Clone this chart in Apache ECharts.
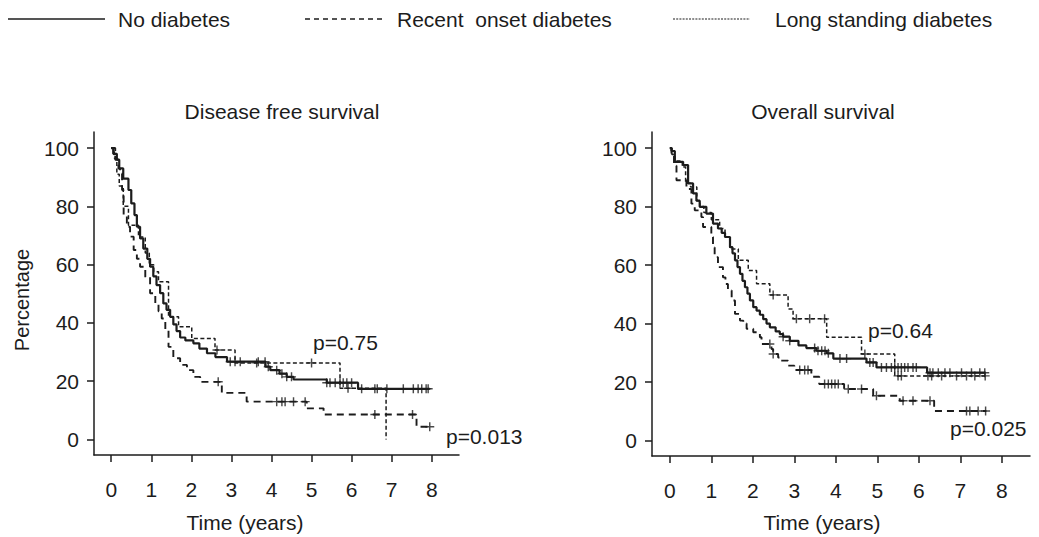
<!DOCTYPE html>
<html><head><meta charset="utf-8">
<script src="https://cdn.jsdelivr.net/npm/echarts@6/dist/echarts.min.js"></script>
<style>html,body{margin:0;padding:0;background:#fff}#c{width:1039px;height:537px}</style>
</head><body><div id="c"></div>
<script>
// ---- data (time in years, survival %) ----
var xTicks = [0,1,2,3,4,5,6,7,8];
var yTicks = [0,20,40,60,80,100];
var seriesNames = ['No diabetes','Recent  onset diabetes','Long standing diabetes'];
var panelTitles = ['Disease free survival','Overall survival'];
var pValues = [['p=0.75','p=0.013'],['p=0.64','p=0.025']];

// Disease free survival – step points [time, survival]
var dfsNone = [[0,100],[0.05,98],[0.14,96],[0.2,93],[0.3,89.5],[0.43,85.6],[0.5,81],[0.58,77],[0.64,73],[0.72,69],[0.8,65.5],[0.9,62],[0.97,59.3],[1.05,56],[1.13,53],[1.22,50.2],[1.3,46.7],[1.38,44.5],[1.47,42.1],[1.55,39.5],[1.63,37.2],[1.72,35],[1.85,34],[2.05,33],[2.2,31.2],[2.39,29.6],[2.6,28.3],[2.89,26.7],[3.85,25],[3.97,23.8],[4.2,22.6],[4.38,21.5],[4.55,20.6],[5.38,19.5],[6.16,17.4],[7.95,17.4]];
var dfsRecent = [[0,100],[0.1,96],[0.18,93],[0.22,91.3],[0.27,85.6],[0.31,77],[0.39,73],[0.47,69.6],[0.56,65],[0.64,62],[0.72,59.3],[0.85,55.8],[0.97,50.2],[1.1,46.7],[1.18,44],[1.26,41.5],[1.35,37.6],[1.43,31.8],[1.55,27.9],[1.72,25.6],[1.89,23.8],[2.05,21.5],[2.22,19.8],[2.76,16],[3.38,13],[4.88,10.7],[5.3,8.6],[7.62,4.4],[7.98,4.4]];
var dfsLong = [[0,100],[0.08,96.5],[0.14,91],[0.2,87],[0.3,80],[0.43,73.5],[0.68,69.5],[0.85,64],[0.95,60],[1.06,57.6],[1.18,54.1],[1.43,42.1],[1.68,38.7],[2.01,34.7],[2.59,30.7],[3.09,26.3],[5.71,17.6],[6.86,0]];
// censoring times
var dfsNoneC = [2.97,3.09,3.22,3.67,3.84,3.92,4.13,4.26,4.38,4.5,5.38,5.46,5.59,5.71,5.79,5.88,6.0,6.25,6.58,6.64,6.88,7.29,7.54,7.66,7.75,7.86,7.91];
var dfsRecentC = [2.67,4.13,4.26,4.34,4.55,4.84,6.58,7.52,7.95];
var dfsLongC = [2.64,3.63,5.0,5.91];

// Overall survival
var osNone = [[0,100],[0.04,99],[0.12,95.3],[0.32,94.2],[0.44,87.9],[0.56,84.5],[0.64,82],[0.72,79.9],[0.88,77.6],[1.04,74.2],[1.16,72.5],[1.25,71],[1.33,69.6],[1.45,66.1],[1.51,64],[1.57,61.6],[1.63,59.3],[1.69,57],[1.75,54.6],[1.81,52.4],[1.87,50.2],[1.93,47.9],[2.01,45.6],[2.09,44.4],[2.17,43],[2.25,41.5],[2.33,40],[2.41,38.7],[2.55,37.3],[2.65,36.4],[2.73,35.5],[2.89,34.1],[3.1,32.5],[3.29,31.6],[3.53,30.7],[3.78,29.8],[3.94,28],[4.74,26.7],[4.98,25],[6.2,23.2],[7.59,23.2]];
var osRecent = [[0,100],[0.04,97],[0.1,94],[0.16,89],[0.4,86],[0.52,81],[0.6,78.7],[0.76,76.4],[0.8,73],[1.0,69.6],[1.04,66],[1.08,62.7],[1.16,59.3],[1.28,55.8],[1.34,53.5],[1.4,51.3],[1.49,47.9],[1.57,43.3],[1.69,41],[1.77,40],[1.85,38.2],[2.01,37],[2.17,35.3],[2.21,33],[2.45,31.3],[2.49,29.6],[2.61,28.4],[2.65,27.3],[2.85,25.6],[3.0,24.1],[3.41,21.8],[3.6,19.3],[4.2,17.6],[4.9,15.3],[5.54,13.6],[6.37,10.1],[7.63,10.1]];
var osLong = [[0,100],[0.05,97.8],[0.12,95.6],[0.3,93.5],[0.38,88],[0.5,86.7],[0.65,82],[0.72,80],[0.82,78],[1.0,75.5],[1.2,72.5],[1.33,69.6],[1.45,65.5],[1.65,61.6],[1.89,58.1],[2.09,53.6],[2.41,49.8],[2.85,45],[2.97,41.6],[3.78,35.3],[4.62,29.6],[5.42,22.1],[7.6,22.1]];
var osNoneC = [2.73,2.89,3.49,3.57,3.66,3.74,3.82,4.1,4.26,4.82,4.9,5.1,5.22,5.34,5.42,5.5,5.58,5.66,5.74,5.86,5.94,6.27,6.34,6.47,6.63,6.75,7.03,7.27,7.47,7.59];
var osRecentC = [2.41,2.49,3.13,3.25,3.33,3.73,3.82,3.9,3.98,4.06,4.3,4.62,4.98,5.62,5.86,6.27,7.15,7.23,7.43,7.61];
var osLongC = [2.49,3.05,3.37,3.73,4.7,5.5,5.58,6.22,6.31,6.55,6.91,7.15,7.35,7.6];

// ---- chart ----
var FONT = '"Liberation Sans", Arial, sans-serif';
var INK = '#1c1c1c';
function survAt(curve, t){ var v = curve[0][1]; for (var i=0;i<curve.length;i++){ if (curve[i][0] <= t) v = curve[i][1]; } return v; }
function censorPts(curve, times){ return times.map(function(t){ return [t, survAt(curve, t)]; }); }
var PLUS = 'path://M4.2,0h1.6v4.2h4.2v1.6h-4.2v4.2h-1.6v-4.2h-4.2v-1.6h4.2z';
var styles = [
  {width:2.2, type:'solid'},
  {width:1.9, type:[7,5]},
  {width:1.5, type:[4,2.5]}
];
var panels = [[dfsNone,dfsRecent,dfsLong],[osNone,osRecent,osLong]];
var censors = [[dfsNoneC,dfsRecentC,dfsLongC],[osNoneC,osRecentC,osLongC]];

var series = [];
panels.forEach(function(curves, p){
  curves.forEach(function(curve, k){
    series.push({type:'line', name:seriesNames[k], xAxisIndex:p, yAxisIndex:p, step:'end', data:curve,
      showSymbol:false, silent:true, lineStyle:{color:INK, width:styles[k].width, type:styles[k].type}, z:3});
    series.push({type:'scatter', name:seriesNames[k], xAxisIndex:p, yAxisIndex:p, data:censorPts(curve, censors[p][k]),
      symbol:PLUS, symbolSize:9, itemStyle:{color:INK}, silent:true, z:4});
  });
});

function xAx(i){ return {type:'value', gridIndex:i, min:-0.43, max:8.68,
  axisLine:{show:true, onZero:false, lineStyle:{color:INK, width:1.5}},
  axisTick:{show:true, customValues:xTicks, length:7, lineStyle:{color:INK, width:1.5}},
  axisLabel:{customValues:xTicks, margin:24, fontSize:21, fontFamily:FONT, color:INK},
  splitLine:{show:false}}; }
function yAx(i){ return {type:'value', gridIndex:i, min:-5.3, max:105.5,
  axisLine:{show:true, onZero:false, lineStyle:{color:INK, width:1.5}},
  axisTick:{show:true, customValues:yTicks, length:7, lineStyle:{color:INK, width:1.5}},
  axisLabel:{customValues:yTicks, margin:15, fontSize:21, fontFamily:FONT, color:INK},
  splitLine:{show:false}}; }

function txt(x, y, s, align, size, rot){ return {type:'text', x:x, y:y, rotation:rot||0,
  style:{text:s, fontSize:size||21, fontFamily:FONT, fill:INK, textAlign:align||'left', textVerticalAlign:'middle'}}; }
function lg(x1, x2, dash, w){ return {type:'line', shape:{x1:x1, y1:19, x2:x2, y2:19},
  style:{stroke:INK, lineWidth:w, lineDash:dash}}; }

var graphic = [
  lg(8,105,null,1.4), txt(118,19,seriesNames[0]),
  lg(305,384,[5,4],1.3), txt(397,19,seriesNames[1]),
  lg(673,750,[2,1.2],1.2), txt(775,19,seriesNames[2]),
  txt(282,111,panelTitles[0],'center'), txt(823,111,panelTitles[1],'center'),
  txt(245,522,'Time (years)','center'), txt(822,522,'Time (years)','center'),
  {type:'text', x:22, y:300, rotation:Math.PI/2, style:{text:'Percentage', fontSize:20, fontFamily:FONT, fill:INK, textAlign:'center', textVerticalAlign:'middle'}},
  txt(313,342,pValues[0][0]), txt(446,436,pValues[0][1]),
  txt(868,330,pValues[1][0]), txt(950,428,pValues[1][1])
];

var chart = echarts.init(document.getElementById('c'), null, {renderer:'svg'});
chart.setOption({
  animation:false, backgroundColor:'#fff',
  grid:[{left:94, top:132, width:365, height:323}, {left:652, top:132, width:378, height:324}],
  xAxis:[xAx(0), xAx(1)], yAxis:[yAx(0), yAx(1)],
  series:series, graphic:graphic
});
</script></body></html>
